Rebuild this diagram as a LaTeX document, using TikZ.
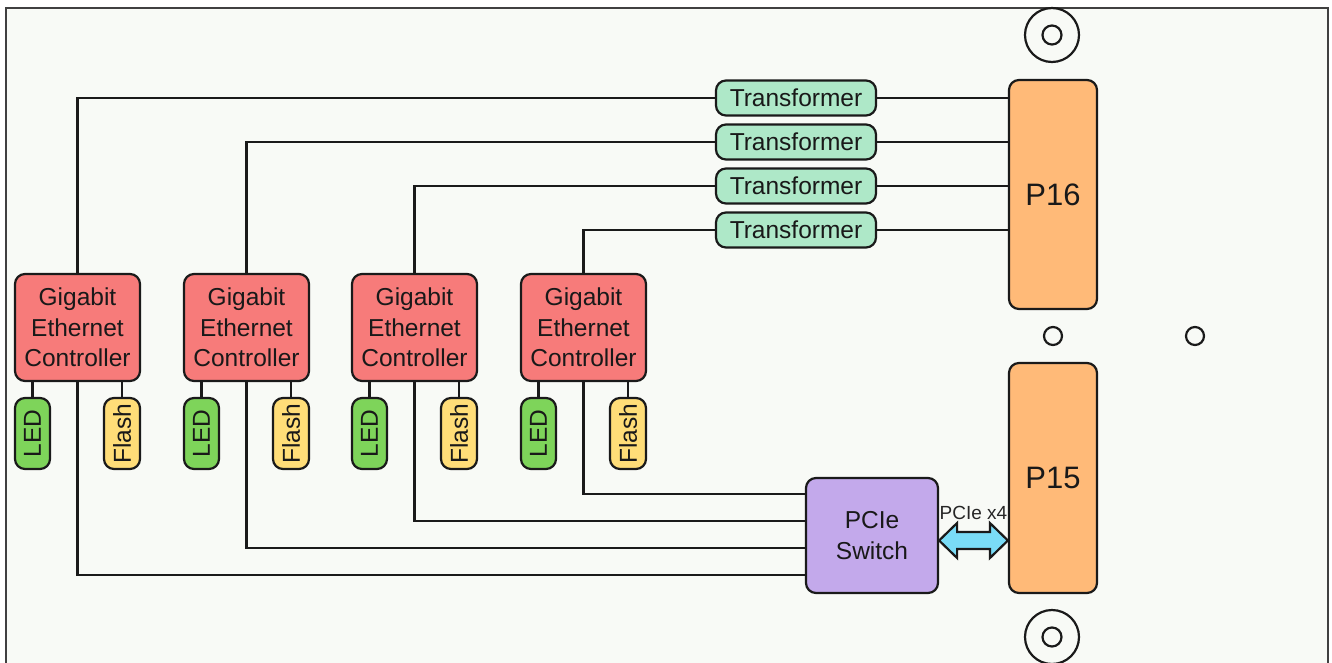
\documentclass[tikz,border=0pt]{standalone}
\usepackage{fontspec}
\setmainfont{Liberation Sans}
\usetikzlibrary{calc}
\definecolor{boardbg}{HTML}{F8FAF6}
\definecolor{ctrlfill}{HTML}{F77B7A}
\definecolor{trfill}{HTML}{AEE8C8}
\definecolor{connfill}{HTML}{FFBA78}
\definecolor{swfill}{HTML}{C3A9EB}
\definecolor{ledfill}{HTML}{7ED45A}
\definecolor{flashfill}{HTML}{FFDD78}
\definecolor{arrfill}{HTML}{7ADCF7}
\definecolor{edge}{HTML}{1A1A1A}
\tikzset{
  blk/.style={draw=edge, line width=2.2pt, rectangle, inner sep=0pt, align=center, text=black!90},
  ctrl/.style={blk, fill=ctrlfill, rounded corners=10pt, minimum width=125pt, minimum height=107pt, font=\fontsize{24.5}{30.5}\selectfont},
  xfmr/.style={blk, fill=trfill, rounded corners=10pt, minimum width=160pt, minimum height=35pt, font=\fontsize{24.5}{28}\selectfont},
  conn/.style={blk, fill=connfill, rounded corners=10pt, minimum width=88pt, font=\fontsize{31}{36}\selectfont},
  pcisw/.style={blk, fill=swfill, rounded corners=10pt, minimum width=132pt, minimum height=115pt, font=\fontsize{24.5}{31}\selectfont},
  ledbox/.style={blk, fill=ledfill, rounded corners=10pt, minimum width=35pt, minimum height=71pt, font=\fontsize{24.5}{28}\selectfont},
  flashbox/.style={blk, fill=flashfill, rounded corners=10pt, minimum width=36pt, minimum height=71pt, font=\fontsize{24.5}{28}\selectfont},
  wire/.style={draw=edge, line width=2.2pt},
  hole/.style={draw=edge, line width=2.2pt, fill=boardbg},
}
\begin{document}
\begin{tikzpicture}[x=1pt, y=-1pt]
\useasboundingbox (0,0) rectangle (1332,662);
\fill[white] (0,0) rectangle (1332,662);
\draw[draw=black!75, line width=2.2pt, fill=boardbg] (6,8) rectangle (1328,700);

% mounting holes
\draw[hole] (1052,35) circle (27);
\draw[hole] (1052,35) circle (9.5);
\draw[hole] (1052,637) circle (27);
\draw[hole] (1052,637) circle (9.5);
\draw[hole] (1053,336) circle (9);
\draw[hole] (1195,336) circle (9);

% connectors
\node[conn, minimum height=229pt] (p16) at (1053,194.5) {P16};
\node[conn, minimum height=230pt] (p15) at (1053,478) {P15};

% transformers
\node[xfmr] (t1) at (796,98) {Transformer};
\node[xfmr] (t2) at (796,142) {Transformer};
\node[xfmr] (t3) at (796,186) {Transformer};
\node[xfmr] (t4) at (796,230) {Transformer};

% PCIe switch
\node[pcisw] (sw) at (872,535.5) {PCIe\\Switch};

% controllers
\foreach \i/\x in {1/77.5,2/246.5,3/414.5,4/583.5}{
  \node[ctrl] (c\i) at (\x,327.5) {Gigabit\\Ethernet\\Controller};
  \node[ledbox] (led\i) at (\x-45,433.5) {\rotatebox{90}{LED}};
  \node[flashbox] (fl\i) at (\x+44.5,433.5) {\rotatebox{90}{Flash}};
  \draw[wire] (led\i.north) -- (led\i.north |- c\i.south);
  \draw[wire] (fl\i.north) -- (fl\i.north |- c\i.south);
}

% transformer to P16
\foreach \i in {1,2,3,4}{
  \draw[wire] (t\i.east) -- (t\i.east -| p16.west);
}

% controllers to transformers
\draw[wire] (c1.north) |- (t1.west);
\draw[wire] (c2.north) |- (t2.west);
\draw[wire] (c3.north) |- (t3.west);
\draw[wire] (c4.north) |- (t4.west);

% controllers to switch
\coordinate (s1) at (sw.west |- 0,575);
\coordinate (s2) at (sw.west |- 0,548);
\coordinate (s3) at (sw.west |- 0,521);
\coordinate (s4) at (sw.west |- 0,494);
\draw[wire] (c1.south) |- (s1);
\draw[wire] (c2.south) |- (s2);
\draw[wire] (c3.south) |- (s3);
\draw[wire] (c4.south) |- (s4);

% PCIe x4 double arrow
\coordinate (aL) at ($(sw.east)+(0,5)$);
\draw[draw=edge, line width=2.2pt, fill=arrfill, line join=miter]
  (aL) -- ++(18,-17.5) -- ++(0,9) -- ($(p15.west |- aL)+(-18,-8.5)$) -- ++(0,-9)
  -- (p15.west |- aL) -- ++(-18,17.5) -- ++(0,-9) -- ($(aL)+(18,8.5)$) -- ++(0,9) -- cycle;
\node[font=\fontsize{19}{22}\selectfont, text=black!85] (lbl) at ($(aL)!0.5!(p15.west |- aL)+(0,-28)$) {PCIe x4};
\end{tikzpicture}
\end{document}
